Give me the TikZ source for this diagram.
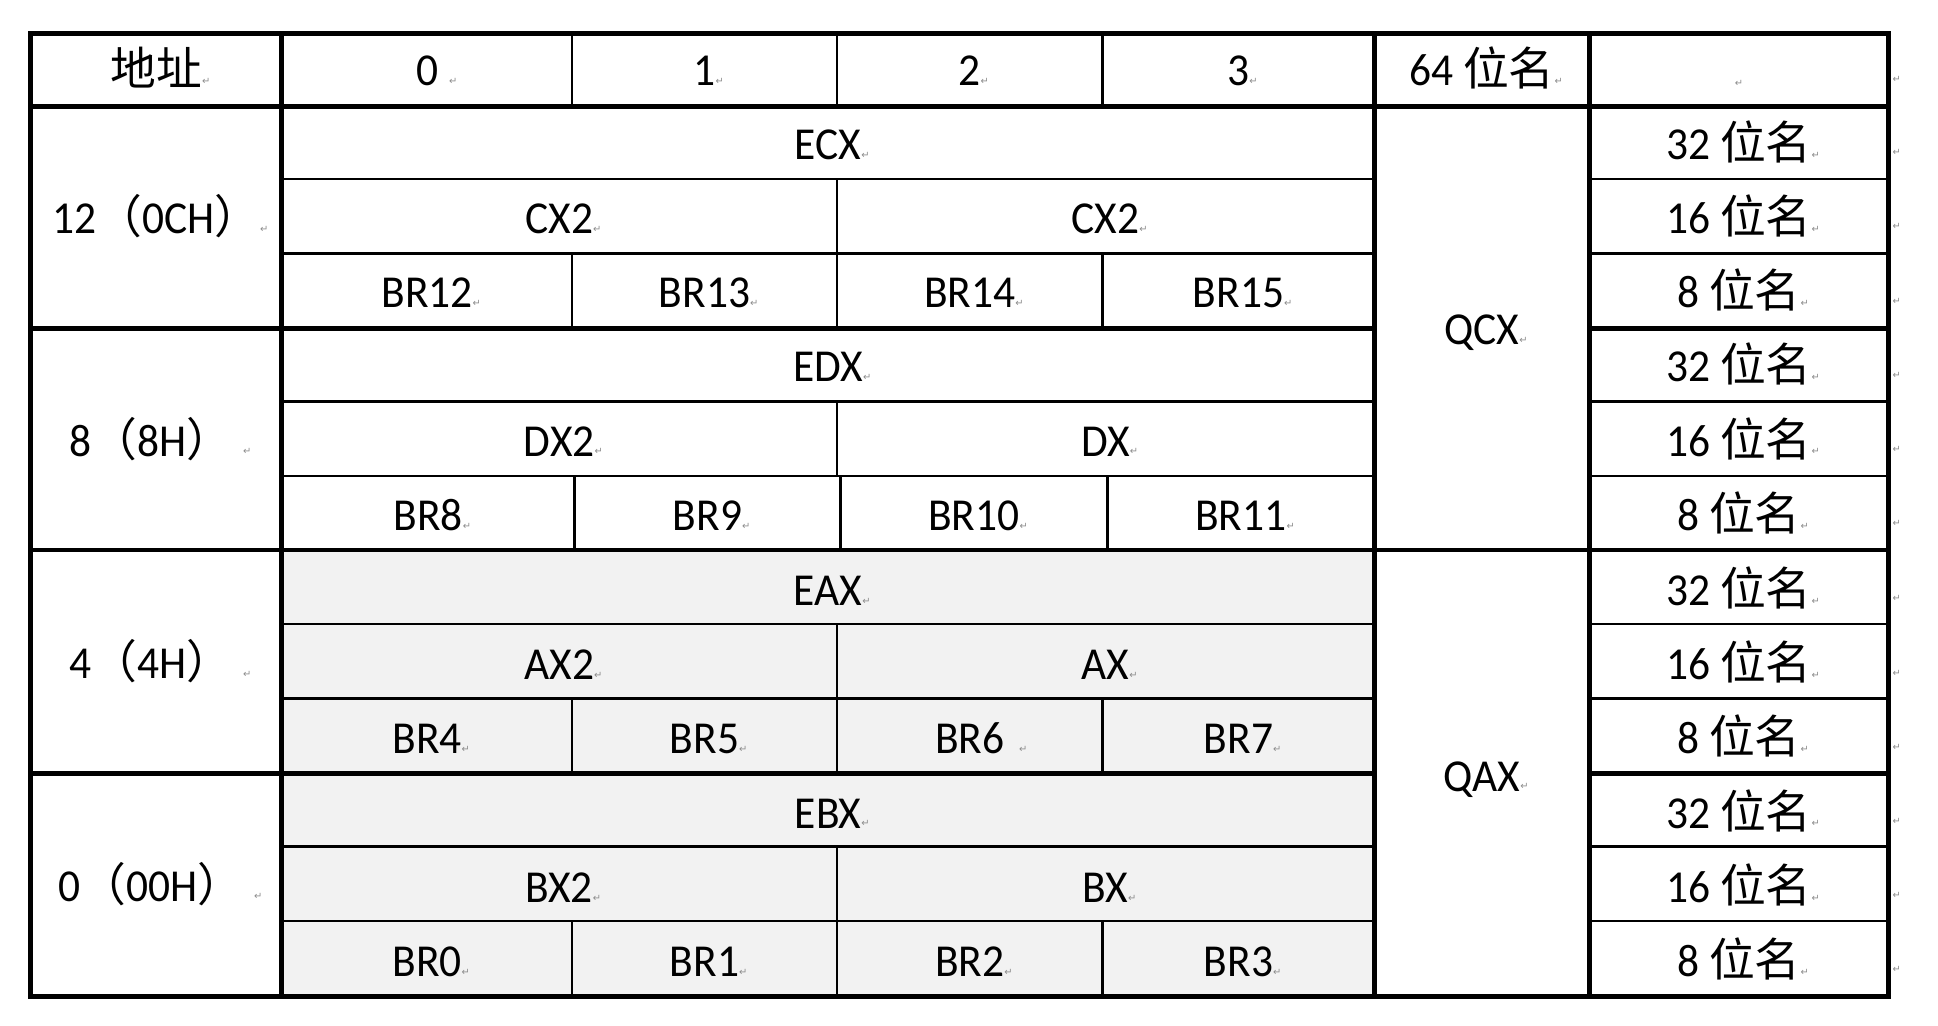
\documentclass[tikz,border=0pt]{standalone}
\usepackage{fontspec}
\setmainfont{Carlito}[FakeStretch=0.95]
\newfontfamily\cjk{Noto Sans CJK SC}
\newfontfamily\dvs{DejaVu Sans}
\definecolor{cellgray}{HTML}{F2F2F2}
\definecolor{markgray}{HTML}{8C8C8C}
\newcommand\pmk{{\dvs\fontsize{8}{8}\selectfont\color{markgray}\char"21B5}}
\newcommand\rmk{\rlap{\raisebox{1pt}{\pmk}}}
\newcommand\srmk{\rlap{\hspace{9pt}\raisebox{1pt}{\pmk}}}
\tikzset{
  txt/.style={anchor=base, inner sep=0pt, font=\fontsize{37}{40}\selectfont},
  endmark/.style={anchor=base west, inner sep=0pt},
  thin/.style={line width=2pt},
  thick/.style={line width=4pt},
}
\begin{document}
\begin{tikzpicture}[x=1pt,y=-1pt]
\useasboundingbox (0,0) rectangle (1568,830);
% grey fill of the lower half
\fill[cellgray] (228,445) rectangle (1112,806);
% thin horizontal lines
\foreach \y in {145,205,325,385,505,565,685,745}{
  \draw[thin] (228,\y) -- (1112,\y);
  \draw[thin] (1286,\y) -- (1528,\y);
}
% thin vertical lines
\foreach \x in {463,677,892}{
  \draw[thin] (\x,27) -- (\x,86);
  \draw[thin] (\x,205) -- (\x,266);
  \draw[thin] (\x,565) -- (\x,626);
  \draw[thin] (\x,745) -- (\x,806);
}
\foreach \x in {465,680,896}{
  \draw[thin] (\x,385) -- (\x,445);
}
\foreach \y in {145,325,505,685}{
  \draw[thin] (677,\y) -- (677,\y+60);
}
% thick lines
\draw[thick] (25,27) rectangle (1528,806);
\draw[thick] (228,27) -- (228,806);
\draw[thick] (1112,27) -- (1112,806);
\draw[thick] (1286,27) -- (1286,806);
\draw[thick] (25,86) -- (1528,86);
\draw[thick] (25,445) -- (1528,445);
\draw[thick] (25,266) -- (1112,266);
\draw[thick] (1286,266) -- (1528,266);
\draw[thick] (25,626) -- (1112,626);
\draw[thick] (1286,626) -- (1528,626);

% header
\node[txt] (haddr) at (126.5,69) {{\cjk 地址}\rmk};
\node[txt] (h0) at (345.5,69) {0\srmk};
\node[txt] (h1) at (570,69) {1\rmk};
\node[txt] (h2) at (784.5,69) {2\rmk};
\node[txt] (h3) at (1002,69) {3\rmk};
\node[txt] (h64) at (1199,69) {64 {\cjk 位名}\rmk};
\node[anchor=base, inner sep=0pt] (hblank) at (1407,70) {\pmk};

% address labels
\node[txt] (l12) at (126.5,189) {12{\cjk （}0CH{\cjk ）}\rmk};
\node[txt] (l8) at (122,369) {8{\cjk （}8H{\cjk ）}\srmk};
\node[txt] (l4) at (122,549) {4{\cjk （}4H{\cjk ）}\srmk};
\node[txt] (l0) at (122,729) {0{\cjk （}00H{\cjk ）}\srmk};

% group C
\node[txt] (ecx) at (670,129) {ECX\rmk};
\node[txt] (cx2a) at (452.5,189) {CX2\rmk};
\node[txt] (cx2b) at (894.5,189) {CX2\rmk};
\node[txt] (br12) at (345.5,249) {BR12\rmk};
\node[txt] (br13) at (570,249) {BR13\rmk};
\node[txt] (br14) at (784.5,249) {BR14\rmk};
\node[txt] (br15) at (1002,249) {BR15\rmk};
% group D
\node[txt] (edx) at (670,309) {EDX\rmk};
\node[txt] (dx2) at (452.5,369) {DX2\rmk};
\node[txt] (dx) at (894.5,369) {DX\rmk};
\node[txt] (br8) at (346.5,429) {BR8\rmk};
\node[txt] (br9) at (572.5,429) {BR9\rmk};
\node[txt] (br10) at (788,429) {BR10\rmk};
\node[txt] (br11) at (1004,429) {BR11\rmk};
% group A
\node[txt] (eax) at (670,490) {EAX\rmk};
\node[txt] (ax2) at (452.5,550) {AX2\rmk};
\node[txt] (ax) at (894.5,550) {AX\rmk};
\node[txt] (br4) at (345.5,610) {BR4\rmk};
\node[txt] (br5) at (570,610) {BR5\rmk};
\node[txt] (br6) at (784.5,610) {BR6\rlap{\hspace{12pt}\raisebox{1pt}{\pmk}}};
\node[txt] (br7) at (1002,610) {BR7\rmk};
% group B
\node[txt] (ebx) at (670,670) {EBX\rmk};
\node[txt] (bx2) at (452.5,730) {BX2\rmk};
\node[txt] (bx) at (894.5,730) {BX\rmk};
\node[txt] (br0) at (345.5,790) {BR0\rmk};
\node[txt] (br1) at (570,790) {BR1\rmk};
\node[txt] (br2) at (784.5,790) {BR2\rmk};
\node[txt] (br3) at (1002,790) {BR3\rmk};

% 64-bit names
\node[txt] (qcx) at (1199,279) {QCX\rmk};
\node[txt] (qax) at (1199,640) {QAX\rmk};

% right column
\foreach \n/\b in {a/129,b/309,c/490,d/670}{
  \node[txt] (r32\n) at (1407,\b) {32 {\cjk 位名}\rmk};
}
\foreach \n/\b in {a/189,b/369,c/550,d/730}{
  \node[txt] (r16\n) at (1407,\b) {16 {\cjk 位名}\rmk};
}
\foreach \n/\b in {a/249,b/429,c/610,d/790}{
  \node[txt] (r8\n) at (1407,\b) {8 {\cjk 位名}\rmk};
}

% row end marks
\foreach \b [count=\i] in {67,126,186,246,306,366,426,487,547,607,667,727,787}{
  \node[endmark] (end\i) at (1531,\b) {\pmk};
}
\end{tikzpicture}
\end{document}
